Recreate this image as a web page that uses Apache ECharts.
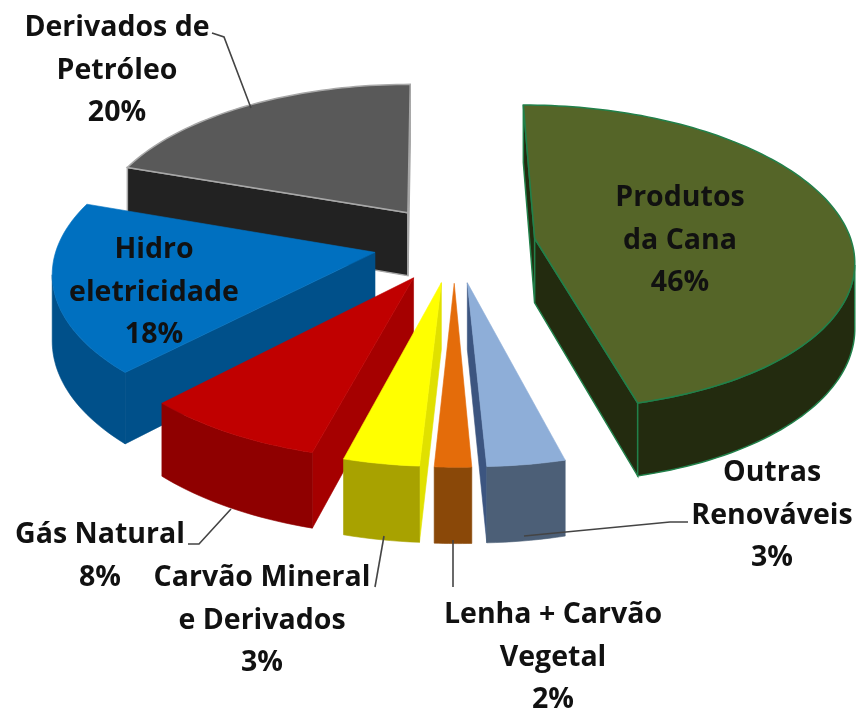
<!DOCTYPE html>
<html>
<head>
<meta charset="utf-8">
<style>html,body{margin:0;padding:0;background:#fff}#chart{width:860px;height:711px}</style>
<script src="https://cdn.jsdelivr.net/npm/echarts@6/dist/echarts.min.js"></script>
</head>
<body>
<div id="chart"></div>
<script>
// data, clockwise from the top of the pie. shares are estimated from the slice
// angles, the printed labels are the rounded values
const categories = ['Produtos\nda Cana', 'Outras\nRenováveis', 'Lenha + Carvão\nVegetal', 'Carvão Mineral\ne Derivados', 'Gás Natural', 'Hidro\neletricidade', 'Derivados de\nPetróleo'];
const shares = [46, 3.4, 1.6, 3.3, 8, 18, 19.7];

const topColors = ['#556528', '#8eaed8', '#e46c0a', '#ffff00', '#c00000', '#0070c0', '#595959'];
const wallColors = ['#232b0f', '#4c5f77', '#8a4808', '#a8a200', '#8f0000', '#00508a', '#222222'];
const cutColors = ['#232b0f', '#3c5580', '#a85008', '#e0e000', '#a50000', '#00508a', '#222222'];
const edgeColors = ['#21804a', null, null, null, null, null, '#a8a8a8'];

// pie geometry: perspective camera and exploded slices
const VX = 430, HORIZON = -994, H = 1264, D = 2600;
const CX = 25, CY = -56, R = 324, EXPLODE = 83, THICK = 66;

function project(x, y, z) {
  const s = D / (D - y);
  return [VX + x * s, HORIZON + (H + z) * s];
}

const total = shares.reduce((a, b) => a + b, 0);
let acc = 0;
const slices = shares.map((v, i) => {
  const a0 = acc / total * Math.PI * 2;
  acc += v;
  const a1 = acc / total * Math.PI * 2;
  const mid = (a0 + a1) / 2;
  return { i, a0, a1, ax: CX + EXPLODE * Math.sin(mid), ay: CY - EXPLODE * Math.cos(mid) };
});
const order = slices.slice().sort((p, q) => p.ay - q.ay).map(s => s.i);

function faces(s) {
  const steps = Math.max(8, Math.round((s.a1 - s.a0) * 40));
  const rim = [];
  for (let k = 0; k <= steps; k++) {
    const a = s.a0 + (s.a1 - s.a0) * k / steps;
    rim.push([s.ax + R * Math.sin(a), s.ay - R * Math.cos(a)]);
  }
  const up = p => project(p[0], p[1], 0);
  const down = p => project(p[0], p[1], THICK);
  const apex = [s.ax, s.ay];
  const visible = (p, q) => {
    const a = up(p), b = up(q), c = down(p);
    return (b[0] - a[0]) * (c[1] - a[1]) - (b[1] - a[1]) * (c[0] - a[0]) < 0;
  };
  const wall = [];
  for (let k = 0; k < steps; k++) {
    if (visible(rim[k], rim[k + 1])) {
      if (!wall.length) wall.push(rim[k]);
      wall.push(rim[k + 1]);
    }
  }
  const quad = (p, q) => [up(p), up(q), down(q), down(p)];
  return {
    top: [up(apex)].concat(rim.map(up)),
    wall: wall.length ? wall.map(up).concat(wall.slice().reverse().map(down)) : null,
    cutStart: visible(apex, rim[0]) ? quad(apex, rim[0]) : null,
    cutEnd: visible(rim[steps], apex) ? quad(rim[steps], apex) : null
  };
}

function renderSlice(params, api) {
  const i = api.value(0);
  const f = faces(slices[i]);
  const z = order.indexOf(i) * 10;
  const edge = edgeColors[i];
  const poly = (points, fill, n) => ({
    type: 'polygon',
    z2: z + n,
    shape: { points },
    style: { fill, stroke: edge || fill, lineWidth: edge ? 1.5 : 0.6 }
  });
  const children = [];
  if (f.cutStart) children.push(poly(f.cutStart, cutColors[i], 0));
  if (f.cutEnd) children.push(poly(f.cutEnd, cutColors[i], 0));
  if (f.wall) children.push(poly(f.wall, wallColors[i], 1));
  children.push(poly(f.top, topColors[i], 2));
  return { type: 'group', children };
}

// label and leader layout, same order as categories
const labelCenters = [[680, 198], [772, 473], [553, 615], [262, 578], [100, 535], [154, 250], [117, 28]];
const leaders = [
  null,
  [[688, 522], [670, 522], [524, 536]],
  [[453, 540], [453, 587]],
  [[375, 587], [384, 536]],
  [[188, 544], [199, 544], [231, 509]],
  null,
  [[212, 33], [224, 37], [251, 108]]
];

const labelGraphics = categories.map((name, i) => ({
  type: 'text',
  z: 100,
  x: labelCenters[i][0],
  y: labelCenters[i][1] - 21,
  style: {
    text: name + '\n' + Math.round(shares[i]) + '%',
    align: 'center',
    verticalAlign: 'top',
    lineHeight: 42.5,
    fill: '#111',
    font: 'bold 28.5px "Open Sans"'
  }
}));
const leaderGraphics = leaders.filter(Boolean).map(points => ({
  type: 'polyline',
  z: 99,
  shape: { points },
  style: { stroke: '#444', lineWidth: 1.6, fill: null }
}));

const chart = echarts.init(document.getElementById('chart'), null, { renderer: 'canvas' });
chart.setOption({
  animation: false,
  backgroundColor: '#fff',
  series: [{
    type: 'custom',
    coordinateSystem: 'none',
    silent: true,
    renderItem: renderSlice,
    data: order.map(i => [i])
  }],
  graphic: labelGraphics.concat(leaderGraphics)
});
</script>
</body>
</html>
